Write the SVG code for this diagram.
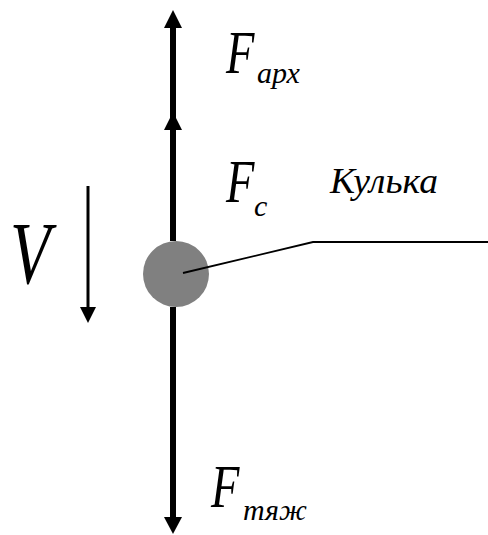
<svg xmlns="http://www.w3.org/2000/svg" width="488" height="535" viewBox="0 0 488 535">
<style>
text{font-family:'Liberation Serif','Times New Roman',serif;font-style:italic;fill:#000}
.big{font-size:62px}
.sub{font-size:30px}
</style>
<rect width="488" height="535" fill="#fff"/>
<g id="ball"><circle cx="176" cy="274" r="33" fill="#808080"/></g>
<g id="connectors">
<line x1="173" y1="24" x2="173" y2="241" stroke="#000" stroke-width="6"/>
<line x1="173" y1="307" x2="173" y2="521" stroke="#000" stroke-width="6"/>
<polygon points="173,10 182,28 164,28" fill="#000"/>
<polygon points="173,112 182,130 164,130" fill="#000"/>
<polygon points="173,534 182,517 164,517" fill="#000"/>
<line x1="88" y1="186" x2="88" y2="310" stroke="#000" stroke-width="3"/>
<polygon points="88,323 96,307 80,307" fill="#000"/>
<polyline points="183,273 313,242 488,242" fill="none" stroke="#000" stroke-width="1.8"/>
</g>
<g id="f-arh">
<text class="big" transform="translate(226,73) scale(0.75,1)">F</text>
<text class="sub" x="257" y="83">арх</text>
</g>
<g id="f-c">
<text class="big" transform="translate(226,202) scale(0.75,1)">F</text>
<text class="sub" x="254" y="216">с</text>
</g>
<g id="kulka"><text x="330" y="193" font-size="36" textLength="108" lengthAdjust="spacingAndGlyphs">Кулька</text></g>
<g id="v"><text transform="translate(10,283) scale(0.75,1)" font-size="88">V</text></g>
<g id="f-tyazh">
<text class="big" transform="translate(211,507) scale(0.75,1)">F</text>
<text class="sub" x="243" y="520">тяж</text>
</g>
</svg>
